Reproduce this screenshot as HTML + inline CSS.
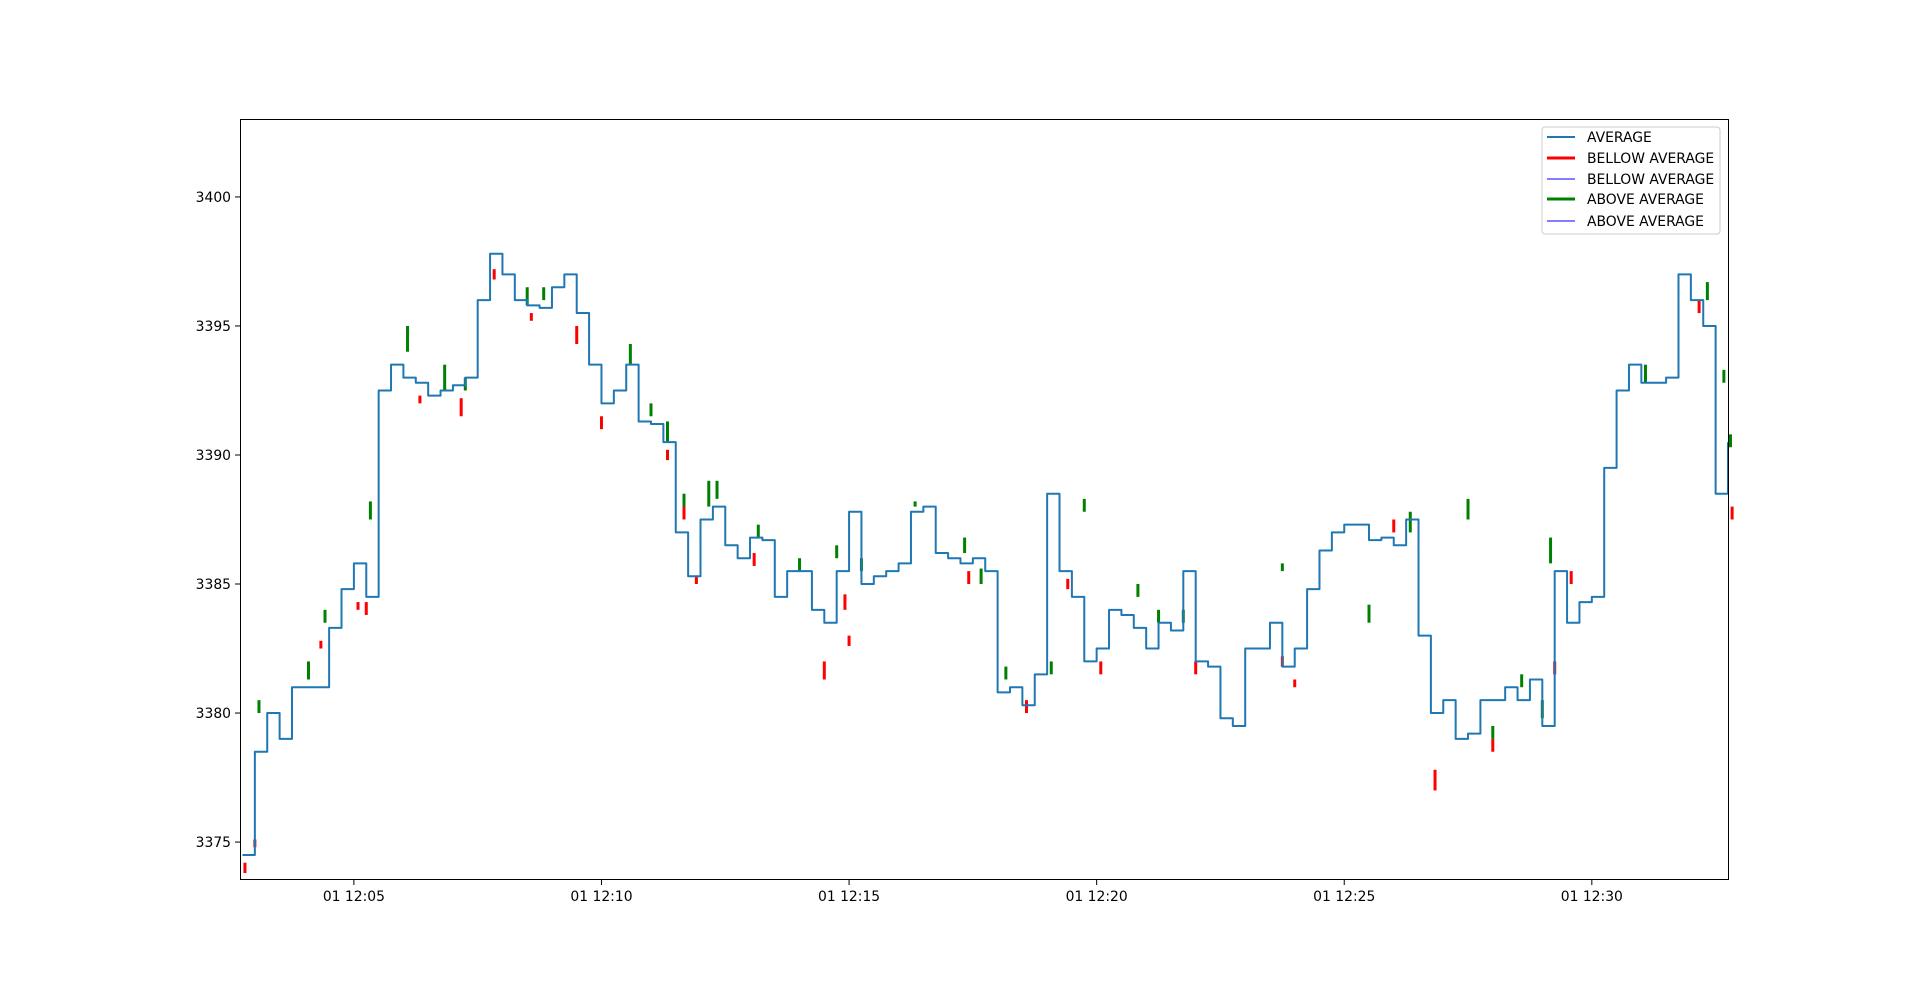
<!DOCTYPE html>
<html><head><meta charset="utf-8"><style>
html,body{margin:0;padding:0;background:#fff;}
svg text{font-family:"DejaVu Sans","Liberation Sans",sans-serif;font-size:13.9px;fill:#000;}
</style></head><body>
<svg id="chart" width="1920" height="989" xmlns="http://www.w3.org/2000/svg">
<rect x="0" y="0" width="1920" height="989" fill="#fff"/>
<g id="bars"></g>
<g id="series"></g>
<rect x="240.5" y="119.5" width="1488" height="760" fill="none" stroke="#000" stroke-width="1"/>
<g id="yaxis"></g>
<g id="xaxis"></g>
<g>
<rect x="1542" y="127" width="178" height="107" rx="3" fill="#fff" fill-opacity="0.8" stroke="#ccc"/>
<line x1="1547" y1="137" x2="1575" y2="137" stroke="#1f77b4" stroke-width="2"/>
<text x="1587" y="142">AVERAGE</text>
<line x1="1547" y1="158" x2="1575" y2="158" stroke="#ff0000" stroke-width="3"/>
<text x="1587" y="163">BELLOW AVERAGE</text>
<line x1="1547" y1="179" x2="1575" y2="179" stroke="#0000ff" stroke-width="1"/>
<text x="1587" y="184">BELLOW AVERAGE</text>
<line x1="1547" y1="199" x2="1575" y2="199" stroke="#008000" stroke-width="3"/>
<text x="1587" y="204">ABOVE AVERAGE</text>
<line x1="1547" y1="221" x2="1575" y2="221" stroke="#0000ff" stroke-width="1"/>
<text x="1587" y="226">ABOVE AVERAGE</text>
</g>
</svg>
<script>
// seconds after 12:00:00, every 15 s starting 12:02:45
const avgValues = [3374.5,3378.5,3380.0,3379.0,3381.0,3381.0,3381.0,3383.3,3384.8,3385.8,3384.5,3392.5,3393.5,3393.0,3392.8,3392.3,3392.5,3392.7,3393.0,3396.0,3397.8,3397.0,3396.0,3395.8,3395.7,3396.5,3397.0,3395.5,3393.5,3392.0,3392.5,3393.5,3391.3,3391.2,3390.5,3387.0,3385.3,3387.5,3388.0,3386.5,3386.0,3386.8,3386.7,3384.5,3385.5,3385.5,3384.0,3383.5,3385.5,3387.8,3385.0,3385.3,3385.5,3385.8,3387.8,3388.0,3386.2,3386.0,3385.8,3386.0,3385.5,3380.8,3381.0,3380.3,3381.5,3388.5,3385.5,3384.5,3382.0,3382.5,3384.0,3383.8,3383.3,3382.5,3383.5,3383.2,3385.5,3382.0,3381.8,3379.8,3379.5,3382.5,3382.5,3383.5,3381.8,3382.5,3384.8,3386.3,3387.0,3387.3,3387.3,3386.7,3386.8,3386.5,3387.5,3383.0,3380.0,3380.5,3379.0,3379.2,3380.5,3380.5,3381.0,3380.5,3381.3,3379.5,3385.5,3383.5,3384.3,3384.5,3389.5,3392.5,3393.5,3392.8,3392.8,3393.0,3397.0,3396.0,3395.0,3388.5,3390.5];
const avgStart = 165, avgStep = 15;
const greenTimes = [185,245,265,320,365,410,435,510,530,635,660,680,700,730,740,790,840,885,915,980,1040,1060,1090,1145,1185,1250,1275,1305,1425,1530,1580,1650,1680,1715,1750,1740,1865,1940,1960,1968];
const greenLo = [3380,3381.3,3383.5,3387.5,3394,3392.5,3392.5,3395.8,3396,3393.5,3391.5,3390.5,3387.5,3388,3388.3,3386.8,3385.5,3386,3385.5,3388,3386.2,3385,3381.3,3381.5,3387.8,3384.5,3383.5,3383.5,3385.5,3383.5,3387,3387.5,3379,3381,3385.8,3379.8,3392.8,3396,3392.8,3390.3];
const greenHi = [3380.5,3382,3384,3388.2,3395,3393.5,3393,3396.5,3396.5,3394.3,3392,3391.3,3388.5,3389,3389,3387.3,3386,3386.5,3386,3388.2,3386.8,3385.6,3381.8,3382,3388.3,3385,3384,3384,3385.8,3384.2,3387.8,3388.3,3379.5,3381.5,3386.8,3380.5,3393.5,3396.7,3393.3,3390.8];
const redTimes = [168,180,260,305,315,380,430,470,515,570,600,680,700,715,785,870,895,900,1045,1115,1165,1205,1320,1440,1425,1560,1610,1680,1755,1775,1930,1970];
const redLo = [3373.8,3374.8,3382.5,3384,3383.8,3392,3391.5,3396.8,3395.2,3394.3,3391,3389.8,3387.5,3385,3385.7,3381.3,3384,3382.6,3385,3380,3384.8,3381.5,3381.5,3381,3381.8,3387,3377,3378.5,3381.5,3385,3395.5,3387.5];
const redHi = [3374.2,3375.1,3382.8,3384.3,3384.3,3392.3,3392.2,3397.2,3395.5,3395,3391.5,3390.2,3388,3385.3,3386.2,3382,3384.6,3383,3385.5,3380.5,3385.2,3382,3382,3381.3,3382.2,3387.5,3377.8,3379,3382,3385.5,3396,3388];
const yTicks = [3375,3380,3385,3390,3395,3400];
const xTicks = [300,600,900,1200,1500,1800];
const xTickLabels = ["01 12:05","01 12:10","01 12:15","01 12:20","01 12:25","01 12:30"];

const L=240,R=1728,T=119,B=880;
const tMin=162,tMax=1965,vMin=3373.53,vMax=3403.02;
const xs=t=>L+(t-tMin)/(tMax-tMin)*(R-L);
const ys=v=>B-(v-vMin)/(vMax-vMin)*(B-T);
const NS="http://www.w3.org/2000/svg";
function mk(tag,attrs,parent){const e=document.createElementNS(NS,tag);for(const k in attrs)e.setAttribute(k,attrs[k]);parent.appendChild(e);return e;}

const bars=document.getElementById('bars');
greenTimes.forEach((t,i)=>{
  const e=mk('line',{x1:xs(t),x2:xs(t),y1:ys(greenLo[i]),y2:ys(greenHi[i]),stroke:'#008000','stroke-width':3},bars);
  
  
});
redTimes.forEach((t,i)=>{
  const e=mk('line',{x1:xs(t),x2:xs(t),y1:ys(redLo[i]),y2:ys(redHi[i]),stroke:'#ff0000','stroke-width':3},bars);
  
  
});

let d='';
avgValues.forEach((v,i)=>{
  const x=xs(avgStart+i*avgStep),y=ys(v);
  if(i===0) d+=`M${x},${y}`; else d+=`H${x}V${y}`;
});
d+=`H${R}`;
const p=mk('path',{d:d,fill:'none',stroke:'#1f77b4','stroke-width':2,'stroke-linejoin':'round'},document.getElementById('series'));



const ya=document.getElementById('yaxis');
yTicks.forEach(v=>{
  const y=ys(v);
  mk('line',{x1:L-5,x2:L,y1:y,y2:y,stroke:'#000'},ya);
  const t=mk('text',{x:L-9,y:y+5,'text-anchor':'end'},ya);
  
  
  t.textContent=v;
});
const xa=document.getElementById('xaxis');
xTicks.forEach((s,i)=>{
  const x=xs(s);
  mk('line',{x1:x,x2:x,y1:B,y2:B+5,stroke:'#000'},xa);
  const t=mk('text',{x:x,y:B+21,'text-anchor':'middle'},xa);
  
  
  t.textContent=xTickLabels[i];
});
</script>
</body></html>
